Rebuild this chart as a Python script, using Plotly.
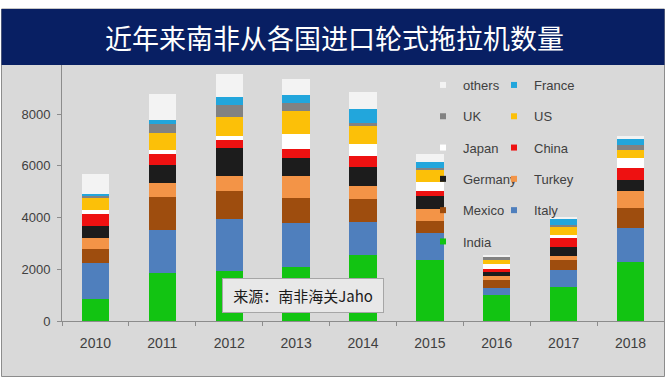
import plotly.graph_objects as go

# ---------------- data ----------------
years = ["2010", "2011", "2012", "2013", "2014", "2015", "2016", "2017", "2018"]
india   = [850, 1850, 1950, 2100, 2550, 2350, 1000, 1300, 2300]
italy   = [1400, 1650, 2000, 1700, 1270, 1040, 280, 690, 1300]
mexico  = [520, 1300, 1090, 960, 910, 460, 320, 350, 770]
turkey  = [450, 520, 550, 860, 490, 490, 130, 190, 640]
germany = [450, 700, 1100, 700, 720, 510, 170, 320, 450]
china   = [480, 450, 320, 330, 440, 160, 130, 390, 450]
japan   = [140, 150, 130, 580, 450, 360, 190, 70, 390]
us      = [480, 640, 750, 910, 710, 490, 120, 320, 300]
uk      = [70, 360, 450, 290, 100, 70, 140, 100, 190]
france  = [60, 170, 310, 320, 540, 220, 30, 220, 240]
others  = [800, 990, 910, 600, 680, 300, 30, 80, 130]

y_ticks = [0, 2000, 4000, 6000, 8000]
title_text = "近年来南非从各国进口轮式拖拉机数量"
source_text = "来源：南非海关Jaho"

series = [
    ("India", india, "#12c412", "legend"),
    ("Italy", italy, "#4f7fbd", "legend2"),
    ("Mexico", mexico, "#9e4d0e", "legend"),
    ("Turkey", turkey, "#f39447", "legend2"),
    ("Germany", germany, "#1c1c1c", "legend"),
    ("China", china, "#ee1111", "legend2"),
    ("Japan", japan, "#ffffff", "legend"),
    ("US", us, "#fcc008", "legend2"),
    ("UK", uk, "#828282", "legend"),
    ("France", france, "#22a6dc", "legend2"),
    ("others", others, "#f3f3f3", "legend"),
]

# ---------------- layout geometry ----------------
W, H = 666, 378
L, R, T, B = 62, 2, 65, 57
PW, PH = W - L - R, H - T - B


def xp(px):
    return (px - L) / PW


def yp(py):
    return (H - B - py) / PH


fig = go.Figure()
for name, vals, col, lg in series:
    fig.add_trace(go.Bar(
        x=years, y=vals, name=name, marker=dict(color=col, line=dict(width=0)),
        showlegend=False, legendgroup=name,
    ))
# legend entries (top of stack listed first)
for name, vals, col, lg in reversed(series):
    fig.add_trace(go.Scatter(
        x=[None], y=[None], mode="markers", name=name, legend=lg, legendgroup=name,
        marker=dict(symbol="square", size=6, color=col), showlegend=True,
    ))

legend_common = dict(
    font=dict(family="Liberation Sans, Arial, sans-serif", size=13, color="#404040"),
    bgcolor="rgba(0,0,0,0)", borderwidth=0, traceorder="grouped",
    tracegroupgap=11.4, xanchor="left", yanchor="top", orientation="v",
)

fig.update_layout(
    width=W, height=H,
    margin=dict(l=L, r=R, t=T, b=B, pad=0),
    paper_bgcolor="white", plot_bgcolor="rgba(0,0,0,0)",
    barmode="stack", bargap=0.59,
    font=dict(family="Liberation Sans, Arial, sans-serif", color="#404040"),
    legend=dict(x=xp(423), y=yp(70), **legend_common),
    legend2=dict(x=xp(494), y=yp(70), **legend_common),
    xaxis=dict(
        type="category", showline=True, linecolor="#8c8c8c", linewidth=1,
        ticks="outside", tickson="boundaries", ticklen=4, tickcolor="#8c8c8c",
        tickfont=dict(size=14, color="#404040"), showgrid=False, zeroline=False,
        ticklabelstandoff=9,
    ),
    yaxis=dict(
        range=[0, 9900], tickvals=y_ticks, showline=True, linecolor="#8c8c8c",
        linewidth=1, ticks="outside", ticklen=4, tickcolor="#8c8c8c",
        tickfont=dict(size=13, color="#404040"), showgrid=False, zeroline=False,
        ticklabelstandoff=4,
    ),
    shapes=[
        dict(type="rect", xref="paper", yref="paper", x0=xp(1.5), x1=xp(664.5),
             y0=yp(376.5), y1=yp(9), fillcolor="#d9d9d9",
             line=dict(color="#8c8c8c", width=1), layer="below"),
        dict(type="rect", xref="paper", yref="paper", x0=xp(1.5), x1=xp(664.5),
             y0=yp(65), y1=yp(9), fillcolor="#081f63",
             line=dict(width=0), layer="above"),
    ],
    annotations=[
        dict(text=title_text, xref="paper", yref="paper", x=xp(334), y=yp(37),
             xanchor="center", yanchor="middle", showarrow=False,
             font=dict(family="Noto Sans CJK SC", size=27, color="white")),
        dict(text=source_text, xref="paper", yref="paper", x=xp(303), y=yp(295.5),
             xanchor="center", yanchor="middle", showarrow=False,
             width=146, height=19, borderpad=7,
             bgcolor="#e8e8e8", bordercolor="#a6a6a6", borderwidth=1,
             font=dict(family="Noto Sans CJK SC", size=15, color="#1a1a1a")),
    ],
)

fig.write_html("out.html", config={"displayModeBar": False},
               post_script="document.body.style.margin='0';")
